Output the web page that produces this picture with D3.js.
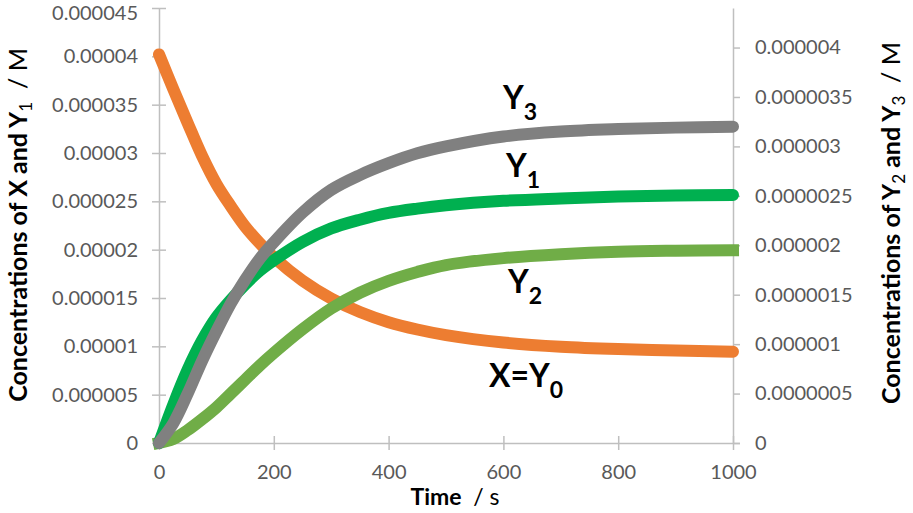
<!DOCTYPE html>
<html>
<head>
<meta charset="utf-8">
<script src="https://cdn.jsdelivr.net/npm/d3@7.9.0/dist/d3.min.js"></script>
<style>
  body { margin: 0; background: #fff; }
  svg { display: block; font-family: Lato, "Open Sans", sans-serif; }
  .tick text { fill: #595959; font-size: 20px; }
  .axis path, .axis line { stroke: #bfbfbf; stroke-width: 1.5; }
</style>
</head>
<body>
<svg width="913" height="513"></svg>
<script>
// time in seconds
const times = [0, 25, 50, 75, 100, 125, 150, 175, 200, 250, 300, 350, 400, 450, 500, 600, 700, 800, 900, 1000];

// left axis series (M)
const xConc  = [40.2e-6, 36.6e-6, 33.1e-6, 29.7e-6, 26.8e-6, 24.5e-6, 22.4e-6, 20.7e-6, 19.2e-6, 16.8e-6, 14.95e-6, 13.55e-6, 12.5e-6, 11.74e-6, 11.16e-6, 10.4e-6, 9.96e-6, 9.72e-6, 9.58e-6, 9.45e-6];
const y1Conc = [0, 4.0e-6, 7.6e-6, 10.6e-6, 13.0e-6, 14.8e-6, 16.4e-6, 17.8e-6, 18.9e-6, 20.8e-6, 22.2e-6, 23.1e-6, 23.8e-6, 24.25e-6, 24.6e-6, 25.05e-6, 25.3e-6, 25.5e-6, 25.6e-6, 25.65e-6];

// right axis series (M)
const y2Conc = [0, 0.04e-6, 0.13e-6, 0.24e-6, 0.36e-6, 0.5e-6, 0.64e-6, 0.78e-6, 0.91e-6, 1.15e-6, 1.36e-6, 1.52e-6, 1.64e-6, 1.73e-6, 1.8e-6, 1.87e-6, 1.91e-6, 1.935e-6, 1.945e-6, 1.95e-6];
const y3Conc = [0, 0.2e-6, 0.5e-6, 0.83e-6, 1.13e-6, 1.41e-6, 1.65e-6, 1.86e-6, 2.03e-6, 2.33e-6, 2.56e-6, 2.71e-6, 2.83e-6, 2.93e-6, 3.0e-6, 3.1e-6, 3.15e-6, 3.175e-6, 3.19e-6, 3.2e-6];

// tick labels
const xTicks = [0, 200, 400, 600, 800, 1000];
const leftTicks = [0, 0.000005, 0.00001, 0.000015, 0.00002, 0.000025, 0.00003, 0.000035, 0.00004, 0.000045];
const rightTicks = [0, 0.0000005, 0.000001, 0.0000015, 0.000002, 0.0000025, 0.000003, 0.0000035, 0.000004];

const svg = d3.select('svg');

// plot area edges
const plotLeft = 159, plotRight = 733, plotTop = 8, plotBottom = 443;

const x = d3.scaleLinear().domain([0, 1000]).range([plotLeft, plotRight]);
const yL = d3.scaleLinear().domain([0, 0.000045]).range([plotBottom, plotTop]);
const yR = d3.scaleLinear().domain([0, 0.0000044]).range([plotBottom, plotTop]);

// 0.0000035 style labels, no exponent
const fmt = d => d.toFixed(8).replace(/\.?0+$/, '');

// left axis
const gL = svg.append('g').attr('class', 'axis')
  .attr('transform', `translate(${plotLeft},0)`)
  .call(d3.axisLeft(yL).tickValues(leftTicks).tickFormat(fmt).tickSizeOuter(0).tickPadding(15));
gL.selectAll('.tick line').attr('x1', -7).attr('x2', 7);
// keep the top label inside the picture
gL.selectAll('.tick text').filter(d => d === 0.000045).attr('dy', '0.55em');

// right axis
const gR = svg.append('g').attr('class', 'axis')
  .attr('transform', `translate(${plotRight},0)`)
  .call(d3.axisRight(yR).tickValues(rightTicks).tickFormat(fmt).tickSizeInner(7).tickSizeOuter(0).tickPadding(15));

// bottom axis
const gX = svg.append('g').attr('class', 'axis')
  .attr('transform', `translate(0,${plotBottom})`)
  .call(d3.axisBottom(x).tickValues(xTicks).tickFormat(d3.format('d')).tickSizeOuter(0).tickPadding(16));
gX.selectAll('.tick line').attr('y1', -7).attr('y2', 7);
gX.select('.domain').attr('d', `M${plotLeft},0.5H${plotRight + 7}`);

svg.selectAll('.axis text').style('font-family', 'Lato, sans-serif');

// lines
const series = [
  { vals: xConc,  scale: yL, color: '#ED7D31', cap: 'round' },
  { vals: y2Conc, scale: yR, color: '#70AD47', cap: 'square' },
  { vals: y1Conc, scale: yL, color: '#00B050', cap: 'round' },
  { vals: y3Conc, scale: yR, color: '#808080', cap: 'round' }
];

series.forEach(s => {
  const line = d3.line()
    .x((d, i) => x(times[i]))
    .y(d => s.scale(d))
    .curve(d3.curveCatmullRom.alpha(0.5));
  svg.append('path')
    .attr('d', line(s.vals))
    .attr('fill', 'none')
    .attr('stroke', s.color)
    .attr('stroke-width', 12)
    .attr('stroke-linecap', s.cap)
    .attr('stroke-linejoin', 'round');
});

// curve labels
const labels = [
  { main: 'Y', sub: '3', x: 503, y: 109 },
  { main: 'Y', sub: '1', x: 506, y: 177 },
  { main: 'Y', sub: '2', x: 508, y: 293 },
  { main: 'X=Y', sub: '0', x: 489, y: 387 }
];
labels.forEach(l => {
  const t = svg.append('text')
    .attr('x', l.x).attr('y', l.y)
    .attr('font-size', 32).attr('font-weight', 'bold').attr('fill', '#000');
  t.append('tspan').text(l.main);
  t.append('tspan').attr('dy', 11).attr('font-size', 23).text(l.sub);
});

// axis titles
function axisTitle(tx, ty, rot, size, parts) {
  const t = svg.append('text')
    .attr('transform', `translate(${tx},${ty}) rotate(${rot})`)
    .attr('text-anchor', 'middle')
    .attr('font-size', size).attr('fill', '#000');
  parts.forEach(p => {
    const sp = t.append('tspan').text(p.text)
      .attr('font-weight', p.bold ? 'bold' : 'normal');
    if (p.sub) sp.attr('font-size', size * 0.68).attr('dy', 5);
    if (p.after) sp.attr('dy', -5);
  });
}

axisTitle(27, 225, -90, 25, [
  { text: 'Concentrations of X and Y', bold: true },
  { text: '1', sub: true },
  { text: '\u00a0 / M', after: true }
]);
axisTitle(900, 223, -90, 25, [
  { text: 'Concentrations of Y', bold: true },
  { text: '2', sub: true },
  { text: ' and Y', bold: true, after: true },
  { text: '3', sub: true },
  { text: '\u00a0 / M', after: true }
]);
axisTitle(455, 505, 0, 23, [
  { text: 'Time', bold: true },
  { text: '\u00a0 / s' }
]);
</script>
</body>
</html>
